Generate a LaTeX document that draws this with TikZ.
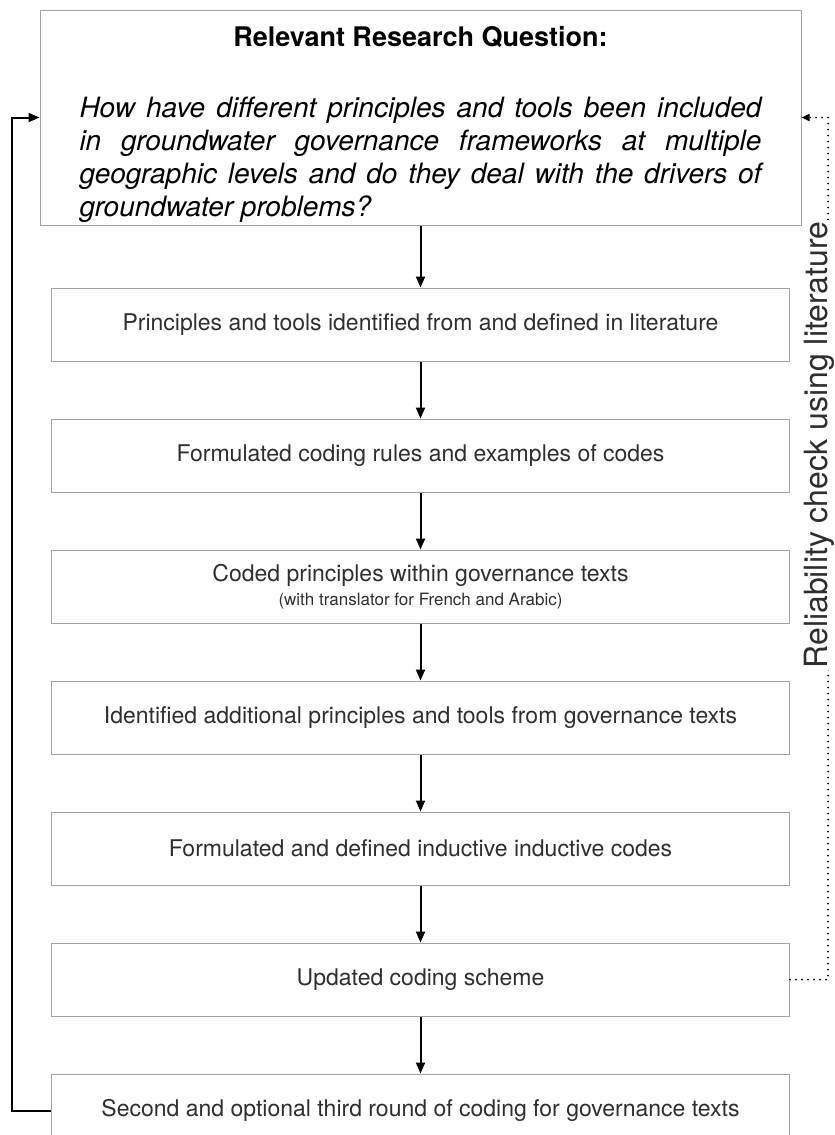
\documentclass[tikz,border=0pt]{standalone}
\usepackage{fontspec}
\setmainfont{TeX Gyre Heros}
\usetikzlibrary{positioning,arrows.meta}
\definecolor{boxgray}{HTML}{A3A3A3}
\definecolor{textgray}{HTML}{2E2E2E}
\begin{document}
\begin{tikzpicture}[x=1pt, y=1pt, node distance=57pt,
  stage/.style={draw=boxgray, line width=1pt, minimum width=738pt, minimum height=73pt, inner sep=0pt, text=textgray, font=\fontsize{23}{27}\selectfont, align=center},
  rq/.style={draw=boxgray, line width=1pt, minimum width=761pt, minimum height=215pt, inner sep=0pt, text width=682pt, align=justify, text=black},
  flow/.style={-{Triangle[length=11pt,width=9pt]}, line width=2pt},
  check/.style={-{Triangle[length=8pt,width=7pt]}, line width=2pt, dash pattern=on 0pt off 6pt, line cap=round}]
\useasboundingbox (0,0) rectangle (835,-1135);
\node[rq] (question) at (420.5,-117.5) {{\centering\fontsize{27}{32}\selectfont\bfseries\rule{0pt}{34pt}Relevant Research Question:\par}\vspace{38pt}\fontsize{28}{33}\selectfont\itshape How have different principles and tools been included\linebreak in groundwater governance frameworks at multiple\linebreak geographic levels and do they deal with the drivers of\linebreak groundwater problems?\par};
\node[stage, below=62pt of question] (lit) {Principles and tools identified from and defined in literature};
\node[stage, below=of lit] (rules) {Formulated coding rules and examples of codes};
\node[stage, below=of rules] (coded) {Coded principles within governance texts\\[-3pt]{\fontsize{17}{20}\selectfont (with translator for French and Arabic)}};
\node[stage, below=of coded] (extra) {Identified additional principles and tools from governance texts};
\node[stage, below=of extra] (inductive) {Formulated and defined inductive inductive codes};
\node[stage, below=of inductive] (scheme) {Updated coding scheme};
\node[stage, below=of scheme] (rounds) {Second and optional third round of coding for governance texts};
\foreach \a/\b in {question/lit, lit/rules, rules/coded, coded/extra, extra/inductive, inductive/scheme, scheme/rounds}
  \draw[flow] (\a.south) -- (\b.north);
% loop back and reliability check
\coordinate (leftrail) at (12,0);
\coordinate (rightrail) at (828,0);
\draw[flow] (rounds.west) -- (rounds.west -| leftrail) |- (question.west);
\draw[check] (scheme.east) -- (scheme.east -| rightrail) |- (question.east);
\node[fill=white, rotate=90, anchor=base, inner sep=1pt, text=textgray, font=\fontsize{32}{36}\selectfont] (reliability) at (827,-445) {Reliability check using literature};
\end{tikzpicture}
\end{document}
